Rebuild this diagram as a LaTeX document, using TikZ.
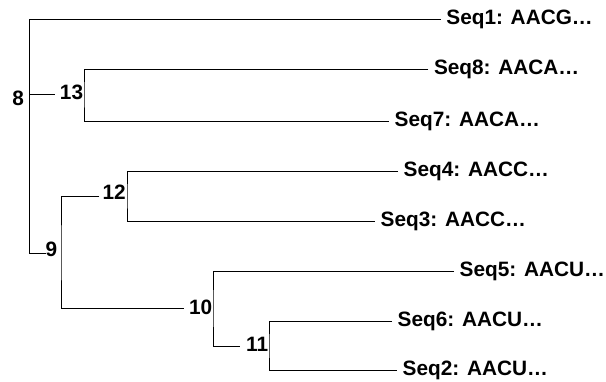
\documentclass[tikz,border=0pt]{standalone}
\usepackage{fontspec}
\setmainfont{Liberation Sans}[BoldFont={Liberation Sans Bold}]
\begin{document}
\begin{tikzpicture}[x=1pt,y=-1pt,
  edge/.style={line width=1pt,draw=black},
  lbl/.style={font=\fontsize{20.8}{24}\selectfont\bfseries,text=black},
  leaf/.style={lbl,anchor=west,inner xsep=5.5pt,inner ysep=0pt},
  clade/.style={lbl,anchor=base east,inner sep=0pt}]
\useasboundingbox (0,0) rectangle (606,381);

% leaf labels, placed at the end of their branch
\node[leaf] (s1) at (440.7,19.5) {Seq1: AACG…};
\node[leaf] (s8) at (428.3,69)   {Seq8: AACA…};
\node[leaf] (s7) at (389,121)    {Seq7: AACA…};
\node[leaf] (s4) at (398,171)    {Seq4: AACC…};
\node[leaf] (s3) at (375,221)    {Seq3: AACC…};
\node[leaf] (s5) at (454,271)    {Seq5: AACU…};
\node[leaf] (s6) at (392,321)    {Seq6: AACU…};
\node[leaf] (s2) at (397,370)    {Seq2: AACU…};

% branch points: x of each clade's bar, y of the branch from its parent
\coordinate (v8)  at (29,94);
\coordinate (v13) at (84,94);
\coordinate (v9)  at (61,253);
\coordinate (v12) at (127,196);
\coordinate (v10) at (213,308);
\coordinate (v11) at (269,346);

% clade numbers, set just left of their bar
\node[clade] (l8)  at (24.2,105.7) {8};
\node[clade] (l13) at (83.3,99.3)  {13};
\node[clade] (l9)  at (57.5,256.7) {9};
\node[clade] (l12) at (126,199.3)  {12};
\node[clade] (l10) at (212.5,314.3) {10};
\node[clade] (l11) at (268.3,351)  {11};

% root bar with Seq1 and the branch to 9
\draw[edge] (s1.west) -| (v8 |- v9) -- (v9 -| l9.west);
\draw[edge,shorten >=5pt] (v8) -- (v8 -| l13.west);
% clade 13
\draw[edge] (s8.west) -| (v13) |- (s7.west);
% clade 9
\draw[edge,shorten <=3pt,shorten >=5pt] (v12 -| l12.west) -| (v9) |- (v10 -| l10.west);
% clade 12
\draw[edge] (s4.west) -| (v12) |- (s3.west);
% clade 10
\draw[edge,shorten >=5.6pt] (s5.west) -| (v10) |- (v11 -| l11.west);
% clade 11
\draw[edge] (s6.west) -| (v11) |- (s2.west);
\end{tikzpicture}
\end{document}
